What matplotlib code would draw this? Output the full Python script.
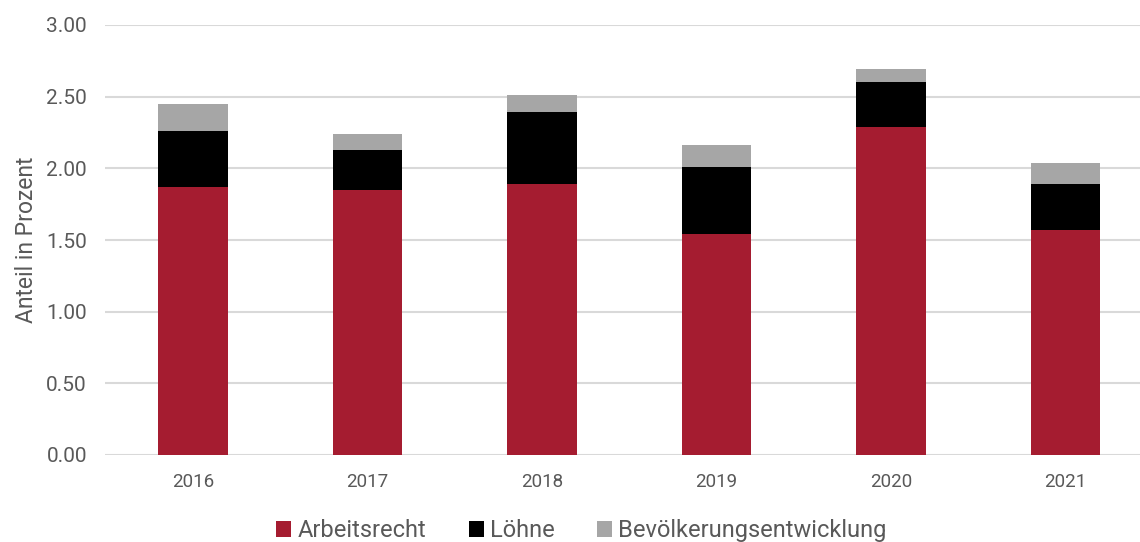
import matplotlib
matplotlib.use("Agg")
import matplotlib.pyplot as plt
import numpy as np

# data
years = ["2016", "2017", "2018", "2019", "2020", "2021"]
arbeitsrecht = [1.87, 1.85, 1.89, 1.54, 2.29, 1.57]
loehne = [0.39, 0.28, 0.50, 0.47, 0.31, 0.32]
bevoelkerung = [0.19, 0.11, 0.12, 0.15, 0.09, 0.15]

plt.rcParams['font.family'] = ['Roboto', 'DejaVu Sans']

fig = plt.figure(figsize=(11.4, 5.42), dpi=100)
ax = fig.add_axes([105 / 1140, 1 - 455 / 542, 1 - 105 / 1140, 430 / 542])

x = np.arange(len(years))
w = 0.4
red = "#A51C30"
grey = "#A6A6A6"

ax.bar(x, arbeitsrecht, w, color=red, label="Arbeitsrecht", zorder=3)
ax.bar(x, loehne, w, bottom=arbeitsrecht, color="black", label="Löhne", zorder=3)
bottom2 = np.array(arbeitsrecht) + np.array(loehne)
ax.bar(x, bevoelkerung, w, bottom=bottom2, color=grey, label="Bevölkerungsentwicklung", zorder=3)

ax.set_ylim(0, 3)
ax.set_xlim(-0.504, 5.427)
ax.set_yticks(np.arange(0, 3.01, 0.5))
ax.set_yticklabels([f"{v:.2f}" for v in np.arange(0, 3.01, 0.5)])
ax.set_xticks(x)
ax.set_xticklabels(years)
ax.yaxis.grid(True, color="#D9D9D9", linewidth=1.5, zorder=0)
ax.set_axisbelow(True)
for s in ax.spines.values():
    s.set_visible(False)
ax.tick_params(axis="both", length=0, colors="#595959")
ax.tick_params(axis="y", labelsize=15, pad=13)
ax.tick_params(axis="x", labelsize=13.5, pad=13)
ax.set_ylabel("Anteil in Prozent", fontsize=16.5, color="#595959", labelpad=6)

fig.legend(loc="lower center", bbox_to_anchor=(0.51, -0.04), ncol=3, frameon=False,
           fontsize=17, handlelength=0.65, handleheight=0.65, handletextpad=0.25,
           columnspacing=1.8, labelcolor="#595959")

fig.savefig("out.png", dpi=100)
